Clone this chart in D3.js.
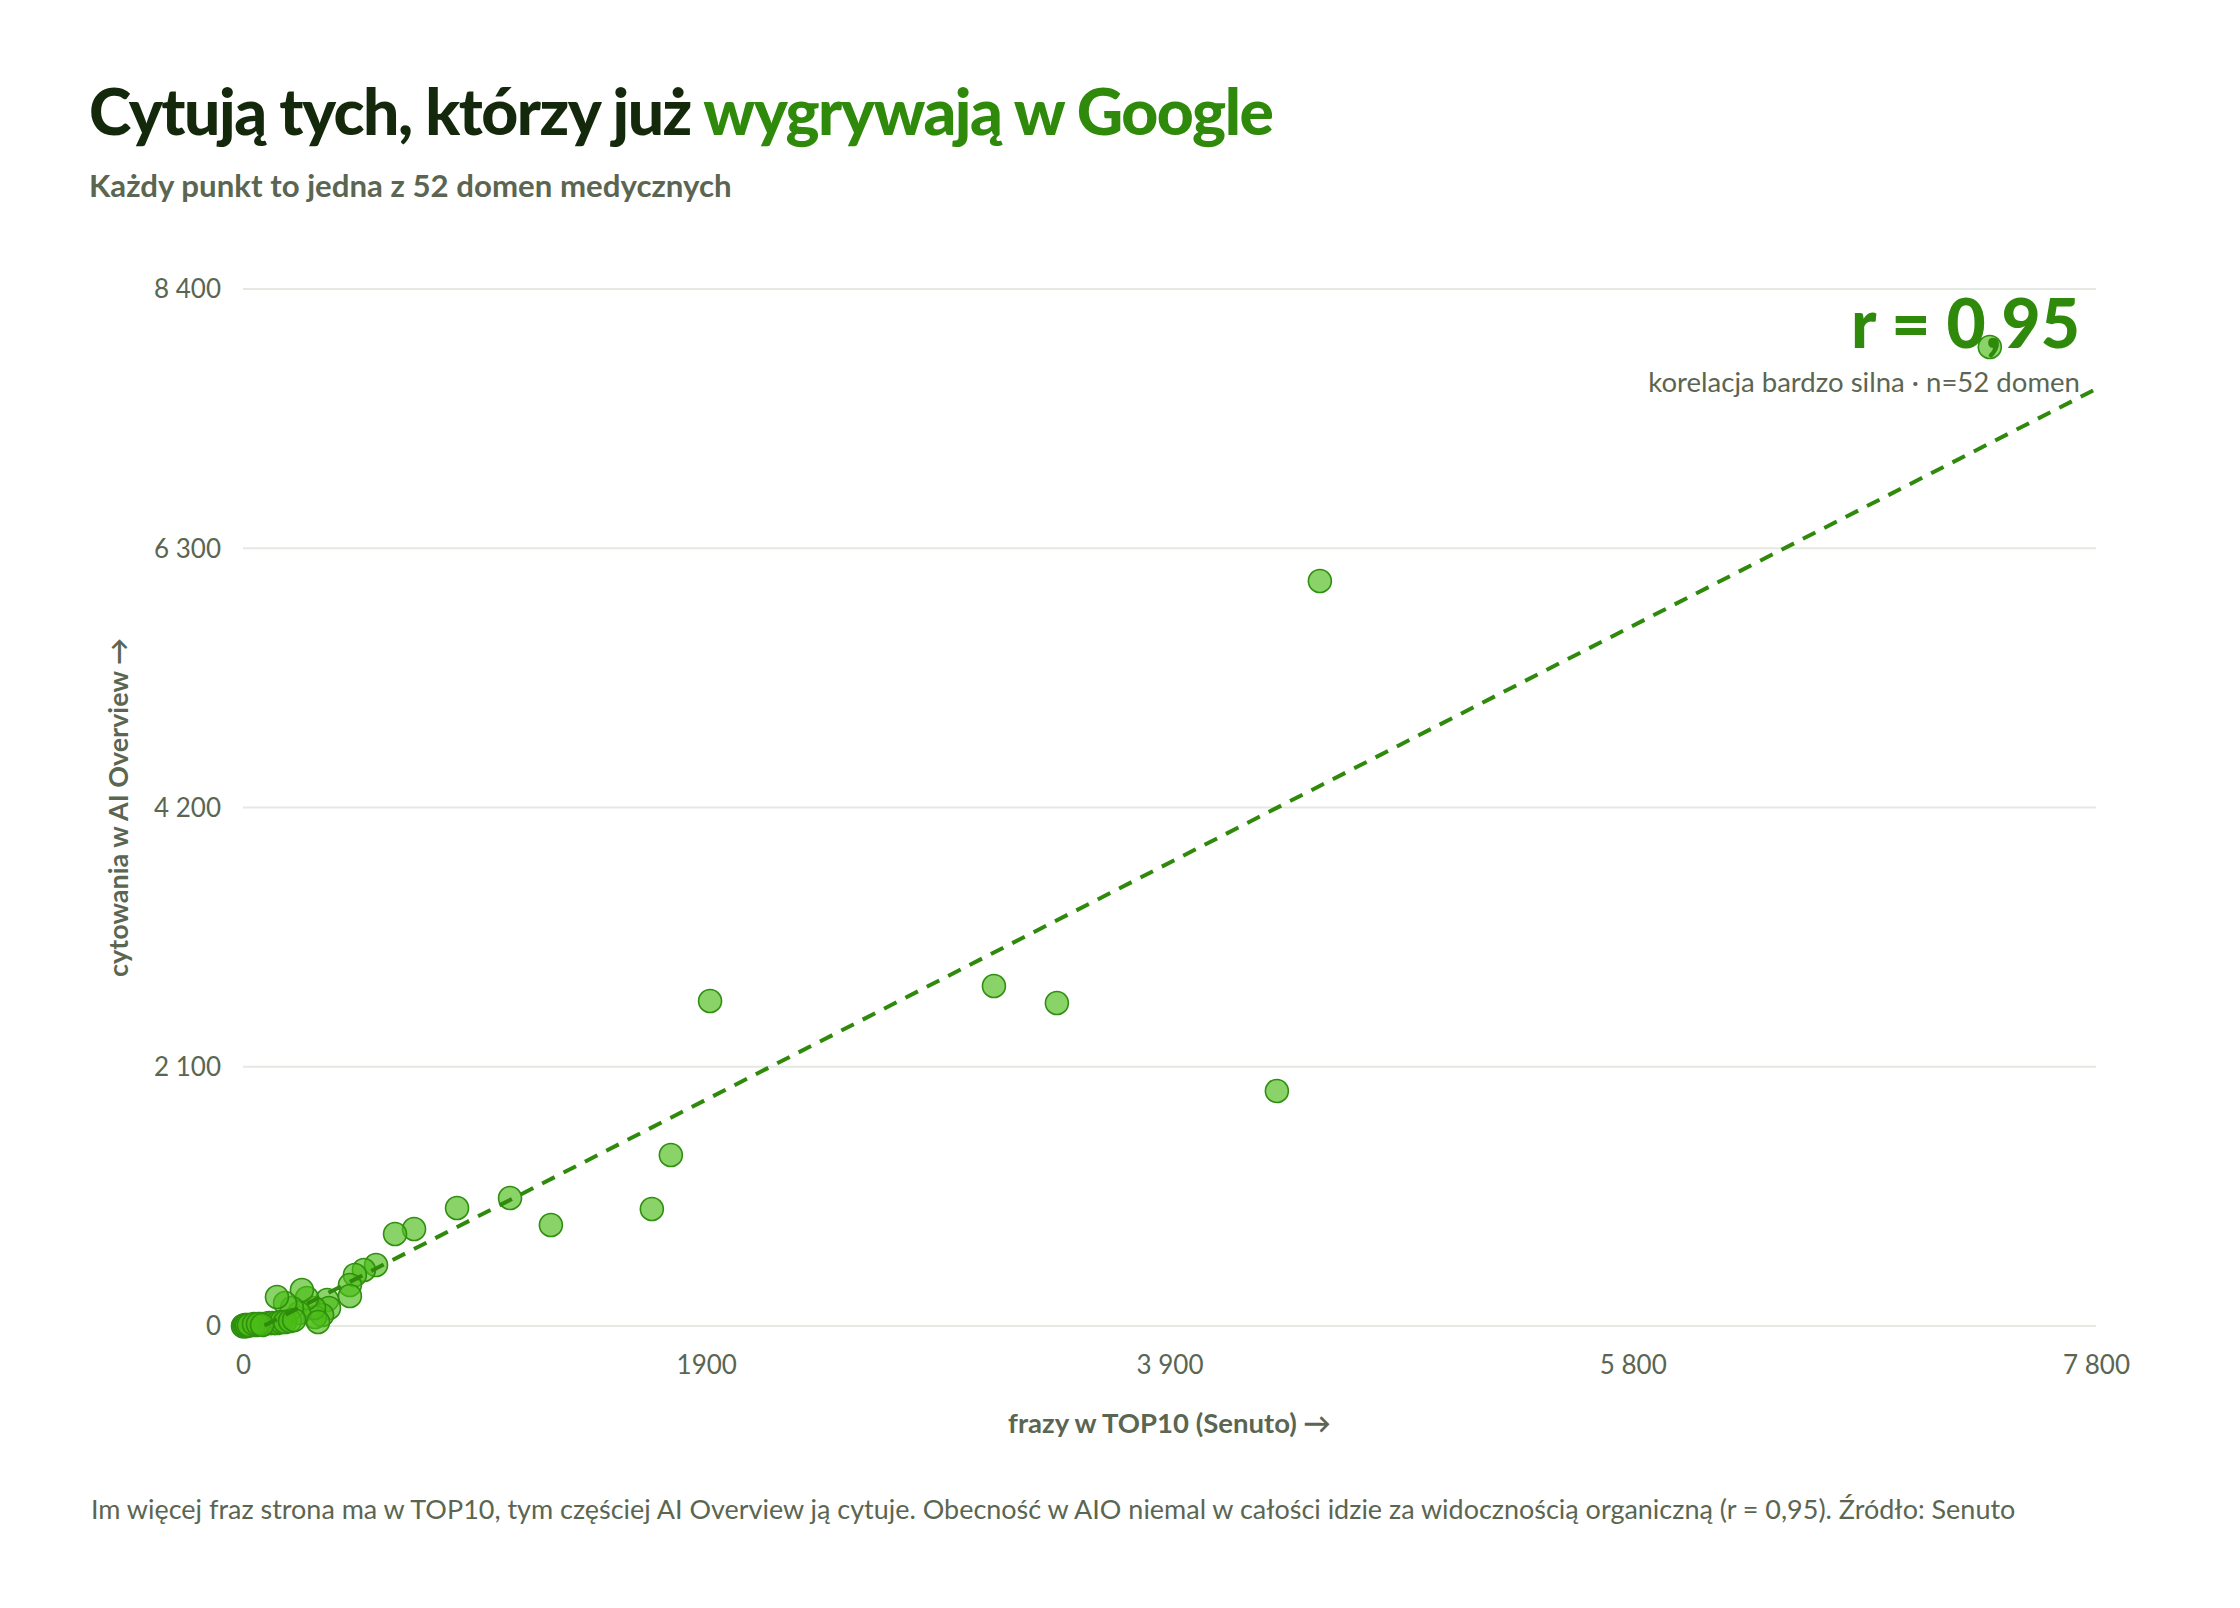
<!DOCTYPE html>
<html lang="pl">
<head>
<meta charset="utf-8">
<script src="https://cdn.jsdelivr.net/npm/d3@7"></script>
<style>
  body { margin: 0; background: #fff; }
  svg { display: block; font-family: Lato, "Noto Sans", sans-serif; }
</style>
</head>
<body>
<svg id="chart" width="2240" height="1608"></svg>
<script>
// 52 domen medycznych: frazy w TOP10 (Senuto) vs cytowania w AI Overview
var phrases = [7353, 4533, 4352, 3161, 3426, 1966, 1801, 1721, 1296, 1124,
               901, 720, 640, 560, 509, 471, 450, 450, 354, 362,
               333, 303, 299, 269, 248, 236, 206, 177, 143, 316,
               4, 21, 38, 55, 72, 88, 109, 126, 143, 160,
               177, 198, 215, 0, 2, 8, 13, 17, 25, 46,
               63, 80];
var citations = [7930, 6035, 1904, 2754, 2616, 2633, 1385, 948, 818, 1037,
                 956, 786, 745, 494, 454, 413, 332, 243, 211, 146,
                 89, 73, 146, 227, 292, 105, 146, 186, 235, 32,
                 0, 0, 8, 8, 16, 16, 24, 24, 24, 32,
                 32, 40, 49, 0, 0, 8, 0, 8, 8, 16,
                 16, 8];

var xTicks = [0, 1950, 3900, 5850, 7800];
var xTickLabels = ["0", "1900", "3 900", "5 800", "7 800"];
var yTicks = [0, 2100, 4200, 6300, 8400];
var yTickLabels = ["0", "2 100", "4 200", "6 300", "8 400"];

// linia trendu
var trendSlope = 0.984, trendIntercept = -85;
var trendRange = [90, 7800];

var green = "#2f8a0c", dark = "#14290c", muted = "#5b6652";

var svg = d3.select("#chart");
var plotLeft = 243, plotRight = 2096, plotTop = 289, plotBottom = 1326;

var x = d3.scaleLinear().domain([0, 7800]).range([plotLeft, plotRight]);
var y = d3.scaleLinear().domain([0, 8400]).range([plotBottom, plotTop]);

function fitWidth(sel, w) {
    var fs = parseFloat(sel.attr("font-size"));
    sel.attr("font-size", fs * w / sel.node().getComputedTextLength());
}

// title + subtitle
var title = svg.append("text")
    .attr("x", 89).attr("y", 135)
    .attr("font-size", 58).attr("font-weight", 900)
    .attr("letter-spacing", -1.5)
    .attr("fill", dark);
title.append("tspan").text("Cytują tych, którzy już ");
title.append("tspan").attr("fill", green).text("wygrywają w Google");
fitWidth(title, 1177);

var sub = svg.append("text")
    .attr("x", 89).attr("y", 197)
    .attr("font-size", 26).attr("font-weight", 700)
    .attr("fill", muted)
    .text("Każdy punkt to jedna z 52 domen medycznych");
fitWidth(sub, 643);

// gridlines
svg.append("g").selectAll("line")
    .data(yTicks)
    .enter().append("line")
    .attr("x1", plotLeft).attr("x2", plotRight)
    .attr("y1", function (d) { return y(d); })
    .attr("y2", function (d) { return y(d); })
    .attr("stroke", "#e4e9e1")
    .attr("stroke-width", 2);

// y axis
var yAxis = svg.append("g")
    .attr("transform", "translate(" + (plotLeft - 22) + ",0)")
    .call(d3.axisLeft(y).tickValues(yTicks).tickSize(0)
        .tickFormat(function (d, i) { return yTickLabels[i]; }));
yAxis.select(".domain").remove();
yAxis.selectAll("text")
    .attr("x", 0).attr("dy", "0.34em")
    .attr("font-size", 26).attr("fill", muted)
    .style("font-family", "Lato, sans-serif");

// x axis
var xAxis = svg.append("g")
    .attr("transform", "translate(0," + plotBottom + ")")
    .call(d3.axisBottom(x).tickValues(xTicks).tickSize(0)
        .tickFormat(function (d, i) { return xTickLabels[i]; }));
xAxis.select(".domain").remove();
xAxis.selectAll("text")
    .attr("y", 48).attr("dy", 0)
    .attr("font-size", 26).attr("fill", muted)
    .style("font-family", "Lato, sans-serif");

// axis titles
var xTitle = svg.append("text")
    .attr("x", (plotLeft + plotRight) / 2).attr("y", 1433)
    .attr("text-anchor", "middle")
    .attr("font-size", 24).attr("font-weight", 700)
    .attr("fill", muted)
    .text("frazy w TOP10 (Senuto) →");
fitWidth(xTitle, 323);

var yTitle = svg.append("text")
    .attr("transform", "translate(128," + (plotTop + plotBottom) / 2 + ") rotate(-90)")
    .attr("text-anchor", "middle")
    .attr("font-size", 24).attr("font-weight", 700)
    .attr("fill", muted)
    .text("cytowania w AI Overview →");
fitWidth(yTitle, 339);

// points
svg.append("g").selectAll("circle")
    .data(phrases)
    .enter().append("circle")
    .attr("cx", function (d) { return x(d); })
    .attr("cy", function (d, i) { return y(citations[i]); })
    .attr("r", 11.5)
    .attr("fill", "#4cbb17")
    .attr("fill-opacity", 0.65)
    .attr("stroke", "#2f8f0e")
    .attr("stroke-width", 1.6);

// trend line
var line = d3.line()
    .x(function (d) { return x(d); })
    .y(function (d) { return y(trendSlope * d + trendIntercept); });
svg.append("path")
    .datum(trendRange)
    .attr("d", line)
    .attr("fill", "none")
    .attr("stroke", green)
    .attr("stroke-width", 4)
    .attr("stroke-dasharray", "14 10");

// correlation note
var rText = svg.append("text")
    .attr("x", 2080).attr("y", 348)
    .attr("text-anchor", "end")
    .attr("font-size", 64).attr("font-weight", 900)
    .attr("fill", green)
    .text("r = 0,95");
fitWidth(rText, 229);

var rSub = svg.append("text")
    .attr("x", 2080).attr("y", 392)
    .attr("text-anchor", "end")
    .attr("font-size", 24)
    .attr("fill", muted)
    .text("korelacja bardzo silna · n=52 domen");
fitWidth(rSub, 432);

// footer
var foot = svg.append("text")
    .attr("x", 91).attr("y", 1519)
    .attr("font-size", 22)
    .attr("fill", muted)
    .text("Im więcej fraz strona ma w TOP10, tym częściej AI Overview ją cytuje. Obecność w AIO niemal w całości idzie za widocznością organiczną (r = 0,95). Źródło: Senuto");
fitWidth(foot, 1925);
</script>
</body>
</html>
